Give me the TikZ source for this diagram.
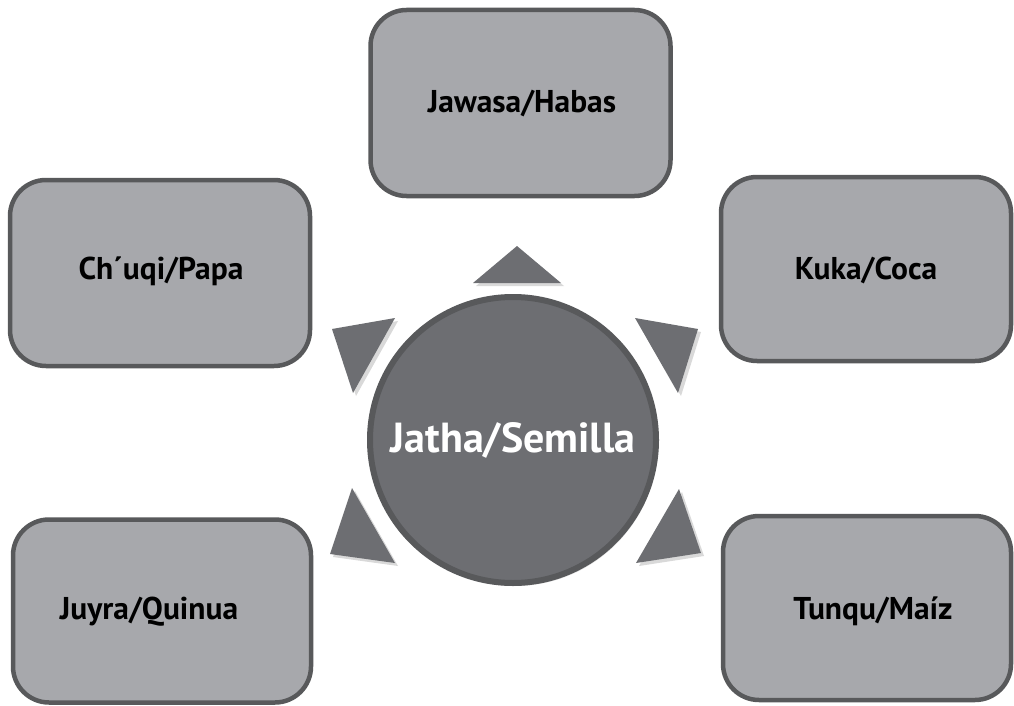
\documentclass[tikz,border=0pt]{standalone}
\usepackage{fontspec}
\setmainfont{PT Sans}
\usetikzlibrary{shadows}
\definecolor{boxfill}{HTML}{A7A8AC}
\definecolor{edgegray}{HTML}{58595B}
\definecolor{corefill}{HTML}{6D6E72}
\tikzset{
  cropbox/.style={draw=edgegray, line width=4.5pt, fill=boxfill, rounded corners=36pt,
    minimum width=#1},
  croplabel/.style={font=\fontsize{31.5}{38}\selectfont\bfseries, text=black, inner sep=0pt},
  corenode/.style={circle, draw=edgegray, line width=6pt, fill=corefill, minimum size=286pt,
    inner sep=0pt, font=\fontsize{42}{50}\selectfont\bfseries, text=white,
    drop shadow={opacity=0.25, shadow xshift=2pt, shadow yshift=-3pt}},
  pointer/.style={fill=corefill, drop shadow={opacity=0.3, shadow xshift=3pt, shadow yshift=-3pt}}
}
\begin{document}
\begin{tikzpicture}[x=1pt, y=-1pt]
\useasboundingbox (0,0) rectangle (1014,706);
% boxes
\node[cropbox=300pt, minimum height=186pt] (habas) at (520.5,103) {};
\node[croplabel] (habaslabel) at (522,103) {Jawasa/Habas};
\node[cropbox=300pt, minimum height=186pt] (papa) at (160,273) {};
\node[croplabel] (papalabel) at (161,271) {Ch´uqi/Papa};
\node[cropbox=290pt, minimum height=184pt] (coca) at (866,269) {};
\node[croplabel] (cocalabel) at (866,270) {Kuka/Coca};
\node[cropbox=298pt, minimum height=183pt] (quinua) at (162,611) {};
\node[croplabel] (quinualabel) at (149,612) {Juyra/Quinua};
\node[cropbox=288pt, minimum height=184pt] (maiz) at (867,608) {};
\node[croplabel] (maizlabel) at (873,611) {Tunqu/Maíz};
% pointers
\fill[pointer] (473,283) -- (561,283) -- (517,246) -- cycle;
\fill[pointer] (332,329) -- (395,318) -- (353,393) -- cycle;
\fill[pointer] (635,318) -- (698,329) -- (678,393) -- cycle;
\fill[pointer] (352,488) -- (330,554) -- (395,563) -- cycle;
\fill[pointer] (679,489) -- (701,553) -- (636,563) -- cycle;
% core
\node[corenode] (seed) at (513,440) {Jatha/Semilla};
\end{tikzpicture}
\end{document}
